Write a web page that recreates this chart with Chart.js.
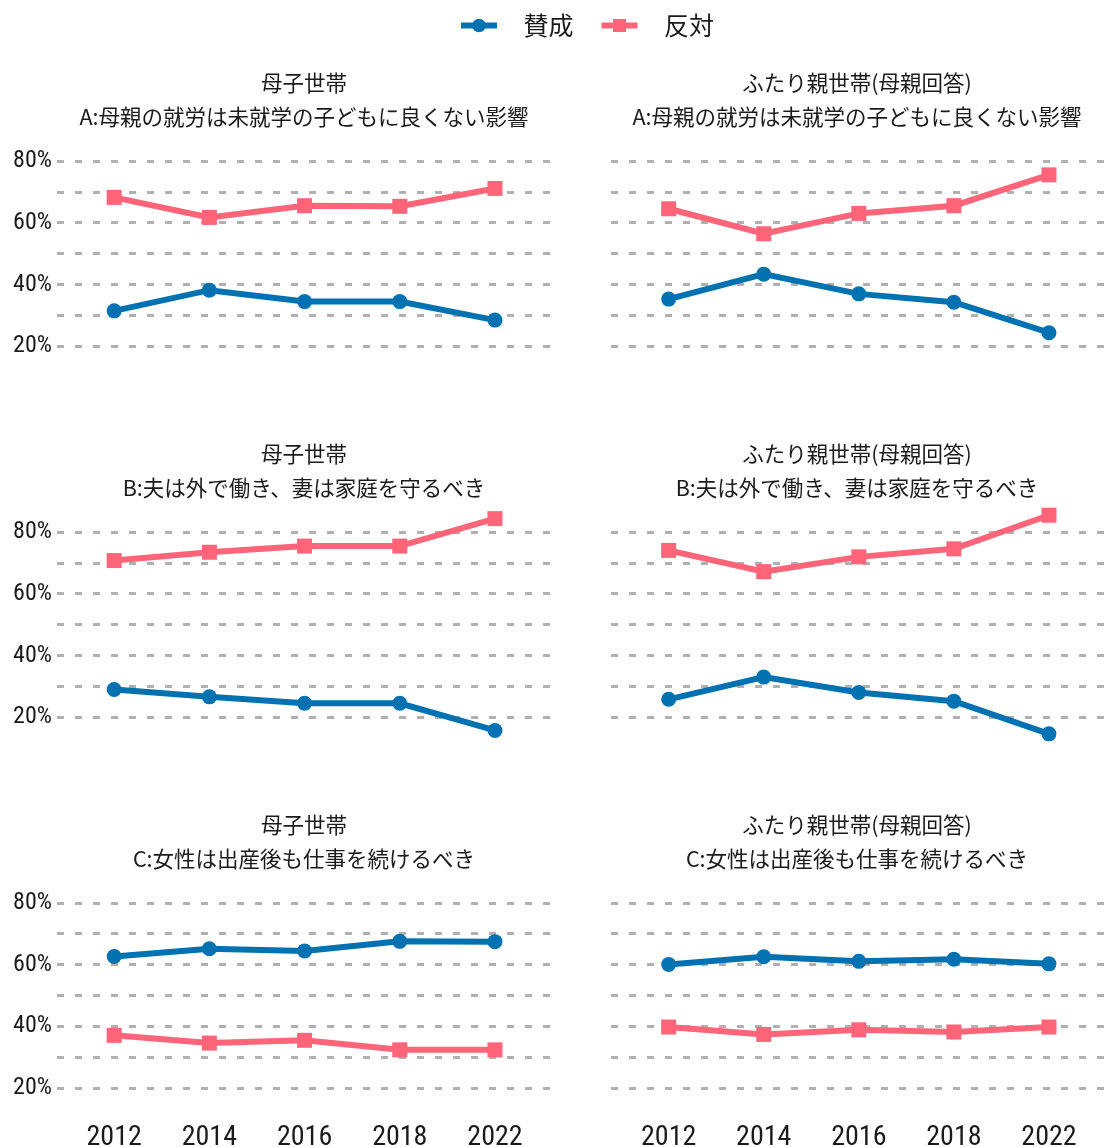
<!DOCTYPE html>
<html lang="ja">
<head>
<meta charset="utf-8">
<title>性別役割意識の推移</title>
<script src="https://cdn.jsdelivr.net/npm/chart.js@4.4.1/dist/chart.umd.min.js"></script>
<style>
  html, body { margin: 0; padding: 0; background: #fff; overflow: hidden; }
  #wrap { position: relative; width: 1104px; height: 1147px; }
  #wrap canvas { position: absolute; }
</style>
</head>
<body>
<div id="wrap"></div>
<script>
// data
const years = ["2012", "2014", "2016", "2018", "2022"];
const yTicks = [20, 30, 40, 50, 60, 70, 80];
const yLabelTicks = [20, 40, 60, 80];
const seriesNames = ["賛成", "反対"];
const groupNames = ["母子世帯", "ふたり親世帯(母親回答)"];
const questions = [
  "A:母親の就労は未就学の子どもに良くない影響",
  "B:夫は外で働き、妻は家庭を守るべき",
  "C:女性は出産後も仕事を続けるべき"
];

const agreeA_single = [31.5, 38.2, 34.5, 34.5, 28.5];
const disagreeA_single = [68.3, 61.8, 65.6, 65.4, 71.2];
const agreeA_two = [35.3, 43.4, 37.0, 34.3, 24.4];
const disagreeA_two = [64.6, 56.5, 63.1, 65.6, 75.6];

const agreeB_single = [29.0, 26.6, 24.5, 24.5, 15.7];
const disagreeB_single = [70.8, 73.5, 75.5, 75.5, 84.4];
const agreeB_two = [25.8, 33.0, 28.0, 25.2, 14.6];
const disagreeB_two = [74.1, 67.2, 72.0, 74.6, 85.5];

const agreeC_single = [62.7, 65.2, 64.5, 67.6, 67.5];
const disagreeC_single = [37.1, 34.6, 35.5, 32.4, 32.4];
const agreeC_two = [60.1, 62.6, 61.1, 61.8, 60.3];
const disagreeC_two = [39.8, 37.4, 38.9, 38.2, 39.8];

const agreeColor = "#0072b2";
const disagreeColor = "#ff6479";
const textColor = "#1a1a1a";
const cjkFont = "'Noto Sans CJK JP', sans-serif";
const numFont = "'Liberation Sans Narrow', 'Roboto Condensed', 'DejaVu Sans Condensed', sans-serif";

const wrap = document.getElementById("wrap");

function addCanvas(left, top, width, height) {
  const c = document.createElement("canvas");
  c.width = width;
  c.height = height;
  c.style.left = left + "px";
  c.style.top = top + "px";
  c.style.width = width + "px";
  c.style.height = height + "px";
  wrap.appendChild(c);
  return c;
}

// legend: line + marker drawn on top of an invisible legend box
const legendMarks = {
  id: "legendMarks",
  afterDraw(chart) {
    const ctx = chart.ctx;
    chart.legend.legendHitBoxes.forEach((hb, i) => {
      const ds = chart.data.datasets[i];
      const y = hb.top + hb.height / 2;
      const cx = hb.left + 18;
      ctx.save();
      ctx.strokeStyle = ds.borderColor;
      ctx.fillStyle = ds.borderColor;
      ctx.lineWidth = 6;
      ctx.beginPath();
      ctx.moveTo(hb.left, y);
      ctx.lineTo(hb.left + 36, y);
      ctx.stroke();
      if (ds.pointStyle === "circle") {
        ctx.beginPath();
        ctx.arc(cx, y, 6.8, 0, Math.PI * 2);
        ctx.fill();
      } else {
        ctx.fillRect(cx - 6.5, y - 6.5, 13, 13);
      }
      ctx.restore();
    });
  }
};

new Chart(addCanvas(0, -15, 1104, 75), {
  type: "line",
  data: {
    labels: [],
    datasets: [
      { label: seriesNames[0], data: [], borderColor: agreeColor, pointStyle: "circle" },
      { label: seriesNames[1], data: [], borderColor: disagreeColor, pointStyle: "rect" }
    ]
  },
  options: {
    responsive: false,
    animation: false,
    events: [],
    layout: { padding: { left: 71 } },
    scales: { x: { display: false }, y: { display: false } },
    plugins: {
      tooltip: { enabled: false },
      legend: {
        position: "top",
        maxHeight: 100,
        labels: {
          boxWidth: 50,
          boxHeight: 6,
          padding: 28,
          color: textColor,
          font: { family: cjkFont, size: 25 },
          generateLabels: chart => chart.data.datasets.map((ds, i) => ({
            text: ds.label,
            fillStyle: "rgba(0,0,0,0)",
            strokeStyle: "rgba(0,0,0,0)",
            lineWidth: 0,
            fontColor: textColor,
            hidden: false,
            datasetIndex: i
          }))
        }
      }
    }
  },
  plugins: [legendMarks]
});

// panels
const panels = [
  { row: 0, col: 0, agree: agreeA_single, disagree: disagreeA_single },
  { row: 0, col: 1, agree: agreeA_two, disagree: disagreeA_two },
  { row: 1, col: 0, agree: agreeB_single, disagree: disagreeB_single },
  { row: 1, col: 1, agree: agreeB_two, disagree: disagreeB_two },
  { row: 2, col: 0, agree: agreeC_single, disagree: disagreeC_single },
  { row: 2, col: 1, agree: agreeC_two, disagree: disagreeC_two }
];

function makePanel(p) {
  const y80 = 161.3 + 370.9 * p.row;          // pixel of the 80% grid line
  const top = Math.round(y80 - 110);
  const showX = p.row === 2;
  const left = p.col === 0 ? 0 : 554;
  const width = p.col === 0 ? 555 : 550;
  const areaTop = y80 - 15.42 - top;
  const areaBottom = y80 + 200.4 - top;
  const height = Math.round(areaBottom + (showX ? 44 : 20));
  const xAxisH = height - areaBottom;
  const titlePadTop = (83 + 370.9 * p.row - top) - 17;
  const titlePadBottom = areaTop - titlePadTop - 68;

  const xMin = p.col === 0 ? -0.611 : -0.617;
  const xMax = p.col === 0 ? 4.599 : 4.579;

  new Chart(addCanvas(left, top, width, height), {
    type: "line",
    data: {
      datasets: [
        {
          label: seriesNames[0],
          data: p.agree.map((v, i) => ({ x: i, y: v })),
          borderColor: agreeColor,
          backgroundColor: agreeColor,
          borderWidth: 6,
          pointStyle: "circle",
          pointRadius: 7.5,
          pointBorderWidth: 0,
          tension: 0,
          clip: false
        },
        {
          label: seriesNames[1],
          data: p.disagree.map((v, i) => ({ x: i, y: v })),
          borderColor: disagreeColor,
          backgroundColor: disagreeColor,
          borderWidth: 6,
          pointStyle: "rect",
          pointRadius: 10.6,
          pointBorderWidth: 0,
          tension: 0,
          clip: false
        }
      ]
    },
    options: {
      responsive: false,
      animation: false,
      events: [],
      layout: { autoPadding: false, padding: { right: p.col === 0 ? 3 : 0 } },
      scales: {
        x: {
          type: "linear",
          min: xMin,
          max: xMax,
          afterBuildTicks: s => { s.ticks = years.map((y, i) => ({ value: i })); },
          afterFit: s => { s.height = xAxisH; s.paddingLeft = 0; s.paddingRight = 0; },
          grid: { display: false },
          border: { display: false },
          ticks: {
            display: showX,
            autoSkip: false,
            maxRotation: 0,
            padding: 10,
            color: textColor,
            font: { family: numFont, size: 28, lineHeight: 1.2 },
            callback: v => years[v]
          }
        },
        y: {
          min: 15,
          max: 85,
          afterBuildTicks: s => { s.ticks = yTicks.map(v => ({ value: v })); },
          afterFit: s => { s.width = 56; s.paddingTop = 0; s.paddingBottom = 0; },
          grid: { color: "#b0b0b0", lineWidth: 3, drawTicks: false },
          border: { display: false, dash: [7, 11], dashOffset: -1 },
          ticks: {
            display: p.col === 0,
            padding: 4,
            color: textColor,
            font: { family: numFont, size: 24 },
            callback: v => yLabelTicks.includes(v) ? v + "%" : ""
          }
        }
      },
      plugins: {
        legend: { display: false },
        tooltip: { enabled: false },
        title: {
          display: true,
          fullSize: false,
          text: [groupNames[p.col], questions[p.row]],
          color: textColor,
          font: { family: cjkFont, size: 21.5, weight: "normal", lineHeight: 34 / 21.5 },
          padding: { top: titlePadTop, bottom: titlePadBottom }
        }
      }
    }
  });
}

panels.forEach(makePanel);
</script>
</body>
</html>
